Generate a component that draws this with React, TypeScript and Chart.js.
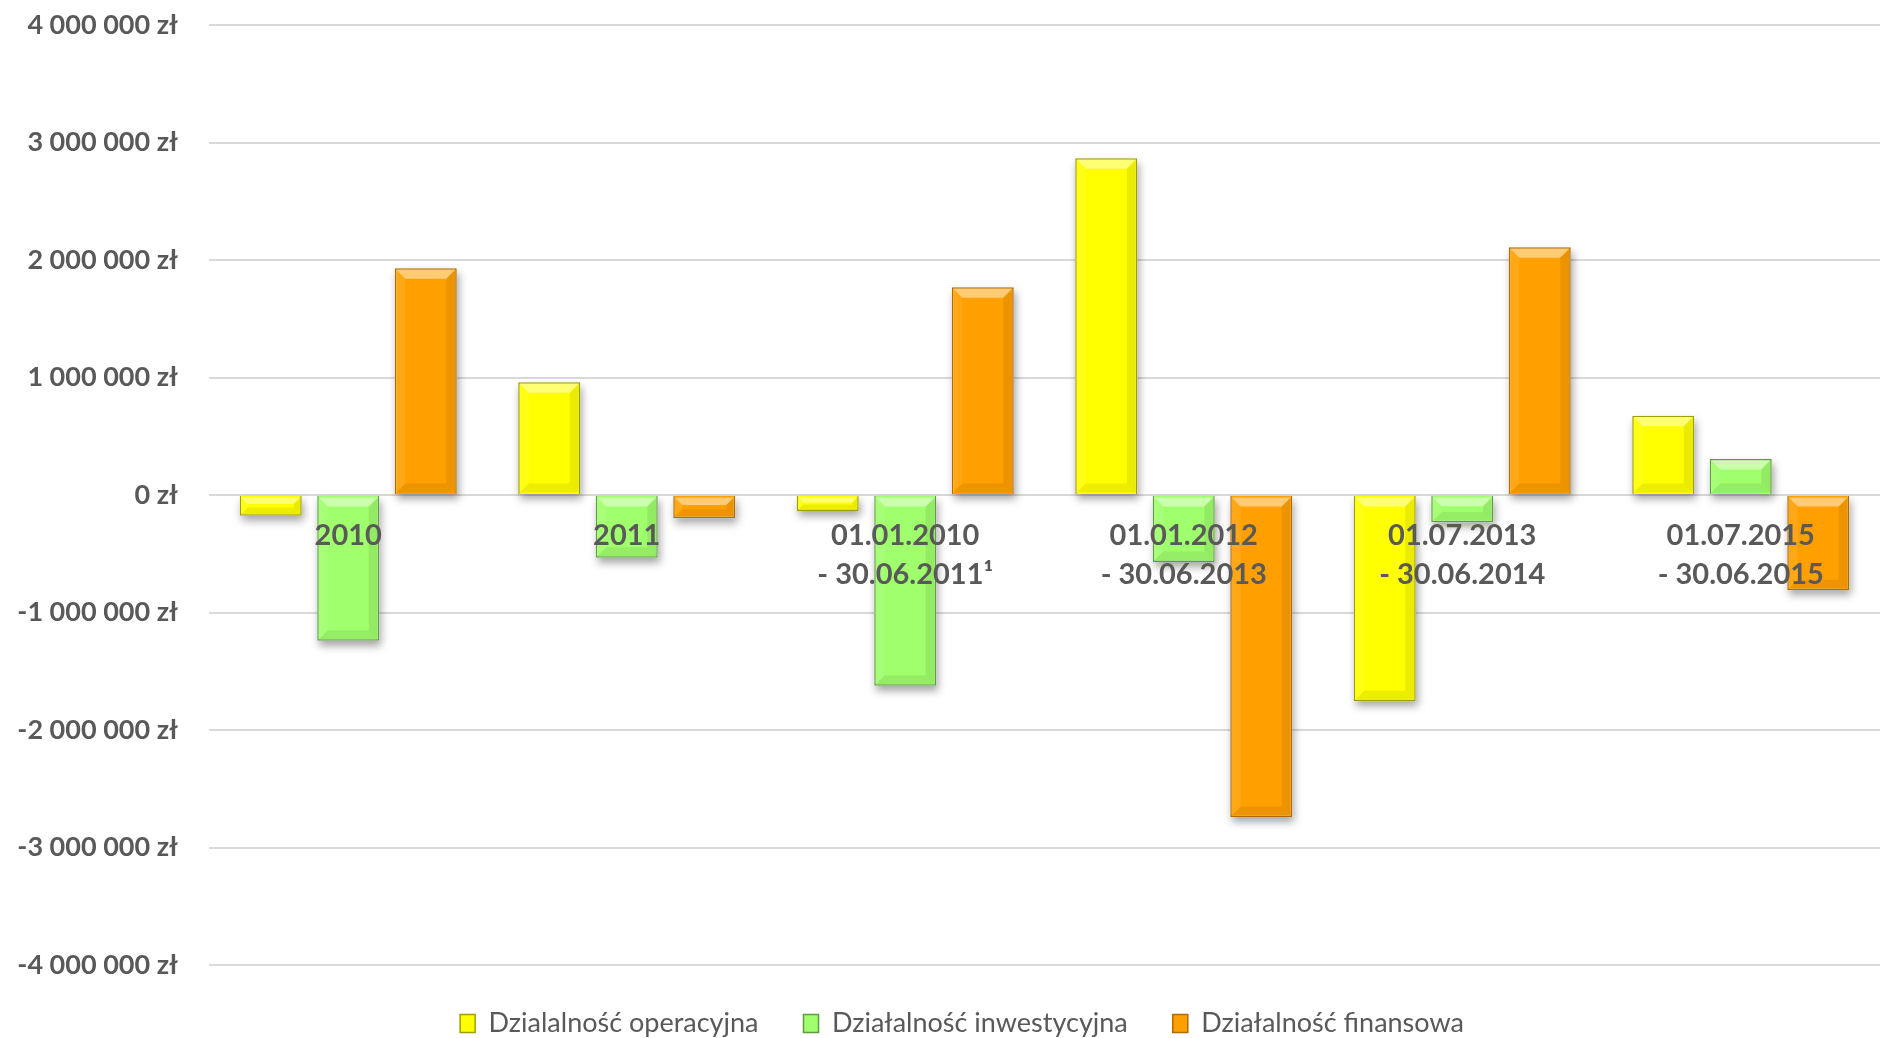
import React, { useEffect, useRef } from 'react';
import { Chart, registerables } from 'chart.js';

Chart.register(...registerables);

const categories: (string | string[])[] = [
  '2010',
  '2011',
  ['01.01.2010', '- 30.06.2011¹'],
  ['01.01.2012', '- 30.06.2013'],
  ['01.07.2013', '- 30.06.2014'],
  ['01.07.2015', '- 30.06.2015'],
];

const operacyjna = [-176000, 960000, -136000, 2865000, -1755000, 675000];
const inwestycyjna = [-1240000, -534000, -1623000, -570000, -232000, 306000];
const finansowa = [1930000, -198000, 1768000, -2740000, 2108000, -810000];

const seriesNames = ['Dzialalność operacyjna', 'Działalność inwestycyjna', 'Działalność finansowa'];

const yMin = -4000000;
const yMax = 4000000;
const yStep = 1000000;

const fmt = (v: number) => {
  const s = Math.abs(v).toString().replace(/\B(?=(\d{3})+(?!\d))/g, ' ');
  return (v < 0 ? '-' : '') + s + ' zł';
};

const barRects = (chart: any) => {
  const out: any[] = [];
  chart.data.datasets.forEach((_: any, i: number) => {
    const meta = chart.getDatasetMeta(i);
    if (meta.hidden) return;
    meta.data.forEach((el: any) => {
      const p = el.getProps(['x', 'y', 'base', 'width'], true);
      const L = p.x - p.width / 2;
      const R = p.x + p.width / 2;
      const T = Math.min(p.y, p.base);
      const B = Math.max(p.y, p.base);
      out.push({ L, R, T, B });
    });
  });
  return out;
};

const shadowPlugin = {
  id: 'barShadow',
  beforeDatasetsDraw(chart: any) {
    const ctx = chart.ctx;
    ctx.save();
    ctx.shadowColor = 'rgba(0,0,0,0.35)';
    ctx.shadowBlur = 8;
    ctx.shadowOffsetX = 2;
    ctx.shadowOffsetY = 5;
    ctx.fillStyle = '#ffffff';
    barRects(chart).forEach((r) => {
      ctx.fillRect(r.L, r.T, r.R - r.L, r.B - r.T);
    });
    ctx.restore();
  },
};

const bevelPlugin = {
  id: 'bevel',
  afterDatasetsDraw(chart: any) {
    const ctx = chart.ctx;
    ctx.save();
    barRects(chart).forEach(({ L, R, T, B }) => {
      const b = Math.min(9, (B - T) / 3, (R - L) / 3);
      const poly = (pts: number[][], color: string) => {
        ctx.beginPath();
        ctx.moveTo(pts[0][0], pts[0][1]);
        for (let k = 1; k < pts.length; k++) ctx.lineTo(pts[k][0], pts[k][1]);
        ctx.closePath();
        ctx.fillStyle = color;
        ctx.fill();
      };
      const l = L + 1.5, r = R - 1.5, t = T + 1.5, bt = B - 1.5;
      poly([[l, t], [r, t], [r - b, t + b], [l + b, t + b]], 'rgba(255,255,255,0.45)');
      poly([[l, bt], [r, bt], [r - b, bt - b], [l + b, bt - b]], 'rgba(0,0,0,0.07)');
      poly([[l, t], [l + b, t + b], [l + b, bt - b], [l, bt]], 'rgba(255,255,255,0.08)');
      poly([[r, t], [r - b, t + b], [r - b, bt - b], [r, bt]], 'rgba(0,0,0,0.08)');
    });
    ctx.restore();
  },
};

const legendShiftPlugin = {
  id: 'legendShift',
  afterLayout(chart: any) {
    const lg = chart.legend;
    if (lg) {
      lg.left += 22;
      lg.right += 22;
    }
  },
};

export default function App() {
  const ref = useRef<HTMLCanvasElement>(null);

  useEffect(() => {
    if (!ref.current) return;
    const chart = new Chart(ref.current, {
      type: 'bar',
      data: {
        labels: categories as any,
        datasets: [
          {
            label: seriesNames[0],
            data: operacyjna,
            backgroundColor: '#FFFF00',
            borderColor: '#9E9E00',
            borderWidth: 1.5,
          },
          {
            label: seriesNames[1],
            data: inwestycyjna,
            backgroundColor: '#A0FF6C',
            borderColor: '#5E9C40',
            borderWidth: 1.5,
          },
          {
            label: seriesNames[2],
            data: finansowa,
            backgroundColor: '#FFA000',
            borderColor: '#B06A00',
            borderWidth: 1.5,
          },
        ],
      },
      options: {
        animation: false,
        responsive: true,
        maintainAspectRatio: false,
        devicePixelRatio: 1,
        layout: { padding: { top: 25, left: 0, right: 0, bottom: 0 } },
        datasets: {
          bar: {
            barPercentage: 0.8,
            categoryPercentage: 0.835,
          },
        },
        scales: {
          x: {
            type: 'category',
            position: { y: 0 } as any,
            grid: { display: false, drawTicks: false },
            border: { display: false },
            ticks: {
              z: 1,
              color: '#595959',
              padding: 21,
              maxRotation: 0,
              autoSkip: false,
              font: { family: 'Lato', weight: 'bold', size: 29, lineHeight: 1.345 },
            } as any,
          },
          y: {
            min: yMin,
            max: yMax,
            afterFit: (scale: any) => {
              scale.width = 209;
              scale.paddingTop = 0;
              scale.paddingBottom = 0;
            },
            grid: { color: '#D9D9D9', lineWidth: 2, drawTicks: false },
            border: { display: false },
            ticks: {
              stepSize: yStep,
              color: '#595959',
              padding: 31,
              font: { family: 'Lato', weight: 'bold', size: 27 },
              callback: (v: any) => fmt(Number(v)),
            },
          },
        },
        plugins: {
          tooltip: { enabled: false },
          legend: {
            position: 'bottom',
            maxHeight: 73,
            labels: {
              color: '#595959',
              boxWidth: 15,
              boxHeight: 18,
              padding: 45,
              font: { family: 'Lato', size: 27 },
            },
          },
        },
      },
      plugins: [shadowPlugin, bevelPlugin, legendShiftPlugin],
    });
    return () => chart.destroy();
  }, []);

  return (
    <div style={{ position: 'fixed', left: 0, top: 0, width: 1880, height: 1038, background: '#ffffff' }}>
      <canvas ref={ref} />
    </div>
  );
}
